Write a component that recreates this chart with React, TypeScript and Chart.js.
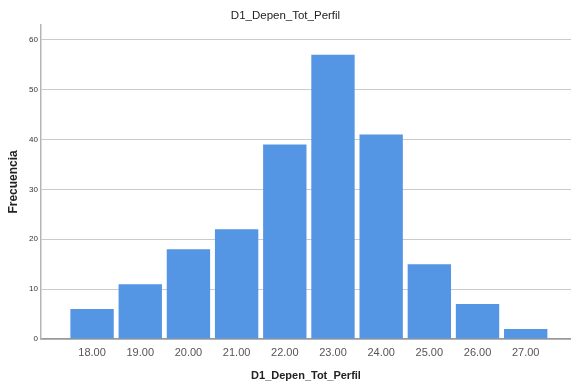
import React, { useEffect, useRef } from "react";
import { Chart, registerables } from "chart.js";

Chart.register(...registerables);

const chartTitle = "D1_Depen_Tot_Perfil";
const xAxisTitle = "D1_Depen_Tot_Perfil";
const yAxisTitle = "Frecuencia";
const categories = [18, 19, 20, 21, 22, 23, 24, 25, 26, 27];
const frequencies = [6, 11, 18, 22, 39, 57, 41, 15, 7, 2];
const tickLabels = ["18.00", "19.00", "20.00", "21.00", "22.00", "23.00", "24.00", "25.00", "26.00", "27.00"];
const yTickValues = [0, 10, 20, 30, 40, 50, 60];

const FONT = "'Liberation Sans', Arial, sans-serif";

export default function App() {
  const ref = useRef<HTMLCanvasElement | null>(null);

  useEffect(() => {
    if (!ref.current) return;
    const chart = new Chart(ref.current, {
      type: "bar",
      data: {
        datasets: [
          {
            data: categories.map((c, i) => ({ x: c, y: frequencies[i] })),
            backgroundColor: "#5495e4",
            borderWidth: 0,
            barPercentage: 0.9,
            categoryPercentage: 1,
          },
        ],
      },
      options: {
        responsive: false,
        animation: false,
        layout: { padding: 0 },
        plugins: {
          legend: { display: false },
          tooltip: { enabled: false },
          title: {
            display: true,
            text: chartTitle,
            color: "#222",
            font: { family: FONT, size: 11.5, weight: "normal", lineHeight: 1.2 },
            padding: { top: 9, bottom: 2 },
          },
        },
        scales: {
          x: {
            type: "linear",
            min: 16.94,
            max: 27.94,
            offset: false,
            grid: { display: false, drawTicks: false, offset: false },
            border: { display: true, color: "#999", width: 1.5 },
            afterBuildTicks: (scale: any) => {
              scale.ticks = categories.map((v) => ({ value: v }));
            },
            afterFit: (scale: any) => {
              scale.height = 48;
            },
            ticks: {
              autoSkip: false,
              maxRotation: 0,
              padding: 7,
              color: "#555",
              font: { family: FONT, size: 11 },
              callback: (value: any) => {
                const idx = categories.indexOf(Number(value));
                return idx >= 0 ? tickLabels[idx] : "";
              },
            },
            title: {
              display: true,
              text: xAxisTitle,
              color: "#222",
              font: { family: FONT, size: 11, weight: "bold", lineHeight: 1.2 },
              padding: { top: 0, bottom: 4.4 },
            },
          },
          y: {
            type: "linear",
            min: 0,
            max: 63,
            grid: { color: "#cacaca", lineWidth: 1, drawTicks: false },
            border: { display: true, color: "#b5b5b5", width: 1.5 },
            afterBuildTicks: (scale: any) => {
              scale.ticks = yTickValues.map((v) => ({ value: v }));
            },
            afterFit: (scale: any) => {
              scale.width = 41;
            },
            ticks: {
              padding: 3,
              color: "#333",
              font: { family: FONT, size: 8 },
            },
            title: {
              display: true,
              text: yAxisTitle,
              color: "#222",
              font: { family: FONT, size: 12, weight: "bold", lineHeight: 1.2 },
              padding: { top: 6.8, bottom: 0 },
            },
          },
        },
      },
    } as any);
    return () => chart.destroy();
  }, []);

  return (
    <canvas
      ref={ref}
      width={571}
      height={387}
      style={{ position: "absolute", left: 0, top: 0, width: 571, height: 387, display: "block", background: "#fff" }}
    />
  );
}
